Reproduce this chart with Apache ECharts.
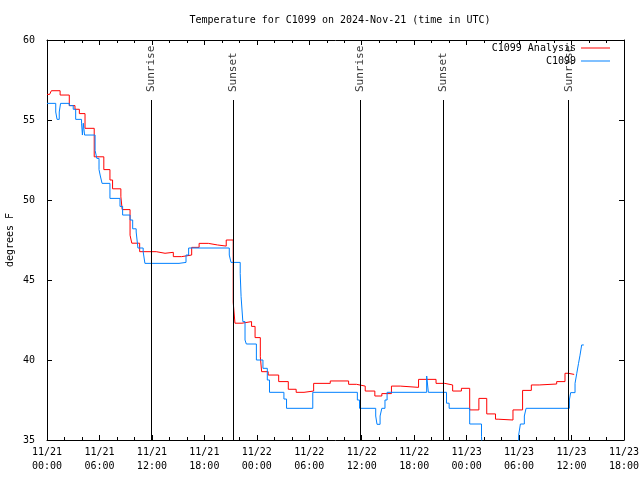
<!DOCTYPE html>
<html>
<head>
<meta charset="utf-8">
<script src="https://cdn.jsdelivr.net/npm/echarts@6/dist/echarts.min.js"></script>
<style>html,body{margin:0;padding:0;background:#fff}#c{width:640px;height:480px}</style>
</head>
<body>
<div id="c"></div>
<script>
// ---- data (hours since 2024-11-21 00:00 UTC, degrees F) ----
const titleText = 'Temperature for C1099 on 2024-Nov-21 (time in UTC)';
const yAxisTitle = 'degrees F';
const xTickLabels = ['11/21\n00:00','11/21\n06:00','11/21\n12:00','11/21\n18:00',
  '11/22\n00:00','11/22\n06:00','11/22\n12:00','11/22\n18:00',
  '11/23\n00:00','11/23\n06:00','11/23\n12:00','11/23\n18:00'];
const yTicks = [35, 40, 45, 50, 55, 60];

const analysisName = 'C1099 Analysis';
const analysisHours = [0,0.3,0.5,1.5,2.55,3.2,3.7,4.35,5.4,6.5,7.2,7.5,8.45,8.6,9.5,
  9.7,10.6,12.5,13.5,14.45,15.4,16.55,17.4,18.45,19.5,20.5,21.3,21.5,22.3,23.4,
  23.8,24.4,24.55,25.3,26.5,27.6,28.5,29.4,30.5,32.4,34.5,35.4,36.4,37.5,38.3,
  39.4,40.4,42.5,44.5,45.5,46.4,47.4,48.35,49.4,50.3,51.3,51.6,53.3,54.4,55.4,
  56.3,58.3,59.25,59.6,60.3];
const analysisTemps = [56.6,56.7,56.83,56.56,55.9,55.67,55.4,54.48,52.7,51.9,51.25,50.7,50.2,49.4,47.8,
  47.3,46.77,46.67,46.73,46.46,46.56,47.04,47.29,47.19,47.12,47.5,43.6,42.3,42.4,42.1,
  41.4,40.2,39.27,39.06,38.65,38.17,37.98,38.06,38.54,38.69,38.48,38.37,38.06,37.75,37.9,
  38.37,38.29,38.79,38.54,38.44,38.06,38.23,36.88,37.6,36.63,36.3,36.25,36.88,38.1,38.44,
  38.5,38.65,39.17,39.1,39.1];

const stationName = 'C1099';
const stationHours = [0,1.0,1.15,1.4,1.55,2.55,3.0,3.28,3.95,4.05,4.15,4.3,5.5,5.7,5.95,
  6.1,6.3,7.2,8.35,8.65,9.5,9.8,10.2,10.4,11.0,11.2,15.1,15.9,16.2,20.85,
  21.05,22.1,22.2,22.4,22.65,22.8,23.95,24.7,25.2,25.45,27.1,27.4,30.4,35.5,35.75,
  37.6,37.75,38.1,38.3,38.66,38.9,43.43,43.62,45.7,46.0,48.35,49.7,49.85,53.95,54.15,
  54.6,54.8,59.75,59.9,60.4,60.6,60.8,60.97,61.16,61.4];
const stationTemps = [56.04,55.5,55.04,55.5,56.04,55.9,55.67,55.04,54.8,54.06,54.8,54.06,53.1,52.6,51.9,
  51.5,51.04,50.1,49.6,49.06,48.75,48.2,48.0,47.0,46.77,46.04,46.1,46.56,47.0,46.56,
  46.1,45.4,43.96,42.4,41.25,41.0,40.0,39.48,38.75,37.98,37.56,36.98,37.98,37.5,36.98,
  36.5,35.98,36.5,36.98,37.5,37.98,39.0,37.98,37.3,36.98,36.0,35.2,34.0,35.3,36.0,
  36.5,36.98,37.5,37.96,38.54,39.17,39.79,40.3,40.94,40.94];

const sunHours = [11.87, 21.33, 35.83, 45.30, 59.68];
const sunLabels = ['Sunrise', 'Sunset', 'Sunrise', 'Sunset', 'Sunrise'];
const sunLineTop = 56.25;   // where the vertical lines begin (degrees F)
const sunLabelBase = 56.75; // where the rotated labels begin

// ---- chart ----
const FONT = 'DejaVu Sans Mono';
const BLACK = '#000';
const RED = '#ff0000';
const BLUE = '#0080ff';
const zip = (a, b) => a.map((x, i) => [x, b[i]]);

function xAxisCfg(pos, showLabel) {
  return {
    type: 'value', position: pos, min: 0, max: 66, interval: 6,
    axisLine: { show: true, onZero: false, lineStyle: { color: BLACK, width: 1 } },
    axisTick: { show: true, inside: true, length: 5, lineStyle: { color: BLACK } },
    minorTick: { show: true, splitNumber: 3, length: 3, lineStyle: { color: BLACK } },
    splitLine: { show: false },
    axisLabel: {
      show: showLabel, margin: 5, fontFamily: FONT, fontSize: 10, color: BLACK, lineHeight: 14,
      formatter: v => xTickLabels[Math.round(v / 6)] || ''
    }
  };
}
function yAxisCfg(pos, showLabel) {
  return {
    type: 'value', position: pos, min: yTicks[0], max: yTicks[yTicks.length - 1], interval: 5,
    axisLine: { show: true, onZero: false, lineStyle: { color: BLACK, width: 1 } },
    axisTick: { show: true, inside: true, length: 5, lineStyle: { color: BLACK } },
    splitLine: { show: false },
    axisLabel: { show: showLabel, margin: 12, fontFamily: FONT, fontSize: 10, color: BLACK }
  };
}

const chart = echarts.init(document.getElementById('c'), null, { renderer: 'canvas' });
chart.setOption({
  animation: false,
  backgroundColor: '#fff',
  title: {
    text: titleText, left: 335, top: 10, textAlign: 'center',
    textStyle: { fontFamily: FONT, fontSize: 10, fontWeight: 'normal', color: BLACK }
  },
  graphic: [{
    type: 'text', x: 10, y: 240, rotation: Math.PI / 2, silent: true,
    style: { text: yAxisTitle, fill: BLACK, font: '10px "DejaVu Sans Mono"', align: 'center', verticalAlign: 'middle' }
  }],
  legend: {
    orient: 'vertical', right: 30, top: 42, align: 'right', padding: 0,
    itemWidth: 29, itemHeight: 1, itemGap: 1,
    textStyle: { fontFamily: FONT, fontSize: 10, color: BLACK, lineHeight: 12 },
    data: [{ name: analysisName, icon: 'rect' }, { name: stationName, icon: 'rect' }]
  },
  grid: { left: 47, right: 16, top: 40, bottom: 40, containLabel: false, outerBoundsMode: 'none' },
  xAxis: [xAxisCfg('bottom', true), xAxisCfg('top', false)],
  yAxis: [yAxisCfg('left', true), yAxisCfg('right', false)],
  series: [
    {
      name: 'sun', type: 'scatter', symbolSize: 0, silent: true,
      data: sunHours.map((h, i) => ({ value: [h, sunLabelBase], name: sunLabels[i] })),
      label: {
        show: true, position: 'inside', rotate: 90, align: 'left', verticalAlign: 'middle',
        fontFamily: FONT, fontSize: 11, color: BLACK, formatter: p => p.name
      },
      markLine: {
        silent: true, symbol: 'none', animation: false,
        lineStyle: { color: BLACK, width: 1, type: 'solid' },
        label: { show: false },
        data: sunHours.map(h => [{ coord: [h, sunLineTop] }, { coord: [h, yTicks[0]] }])
      }
    },
    {
      name: analysisName, type: 'line', step: 'end', symbol: 'none', clip: true,
      color: RED, lineStyle: { color: RED, width: 1 },
      data: zip(analysisHours, analysisTemps)
    },
    {
      name: stationName, type: 'line', step: 'end', symbol: 'none', clip: true,
      color: BLUE, lineStyle: { color: BLUE, width: 1 },
      data: zip(stationHours, stationTemps)
    }
  ]
});
</script>
</body>
</html>
